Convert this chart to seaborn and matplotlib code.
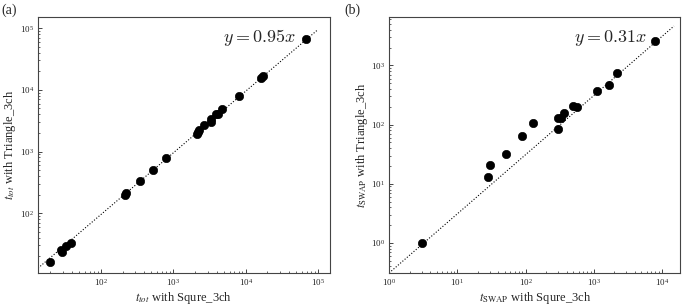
import numpy as np
import pandas as pd
import matplotlib
matplotlib.use('Agg')
import matplotlib.pyplot as plt
import seaborn as sns

# (a) t_tot
tot_square = [20, 28, 29, 33, 38, 215, 225, 346, 521, 795, 2100, 2200, 2300,
              2630, 3300, 3350, 3850, 4200, 4780, 8100, 16300, 17500, 68000]
tot_triangle = [16.4, 25.4, 23.3, 28.8, 33, 200, 210, 334, 505, 780, 1950, 2050, 2200,
                2690, 3000, 3400, 4000, 4100, 4900, 8000, 15500, 16800, 68000]
# (b) t_SWAP
swap_square = [3, 28, 30, 52, 90, 130, 300, 300, 330, 370, 500, 560,
               1100, 1650, 2200, 8000]
swap_triangle = [1.0, 13, 21, 32, 65, 105, 85, 128, 130, 155, 205, 198,
                 370, 465, 740, 2550]

slope_a = 0.95
slope_b = 0.31

sns.set_style('ticks')
plt.rcParams['font.family'] = ['Liberation Serif', 'DejaVu Serif']
plt.rcParams['mathtext.fontset'] = 'stix'

df_a = pd.DataFrame({'x': tot_square, 'y': tot_triangle})
df_b = pd.DataFrame({'x': swap_square, 'y': swap_triangle})

fig = plt.figure(figsize=(6.85, 3.04), dpi=100)
ax1 = fig.add_axes([0.0555, 0.102, 0.426, 0.842])
ax2 = fig.add_axes([0.568, 0.102, 0.425, 0.842])

# 斜率线
line_a = np.logspace(np.log10(13.5), 5, 50)
ax1.plot(line_a, slope_a * line_a, ls=':', color='k', lw=0.8)
sns.scatterplot(data=df_a, x='x', y='y', ax=ax1, color='k', s=36, edgecolor='k', zorder=3)
ax1.set_xscale('log')
ax1.set_yscale('log')
ax1.set_xlim(13.5, 1.46e5)
ax1.set_ylim(10.7, 1.52e5)
ax1.set_xlabel(r'$t_{tot}$ with Squre_3ch', fontsize=9, labelpad=1)
ax1.set_ylabel(r'$t_{tot}$ with Triangle_3ch', fontsize=9, labelpad=1)
ax1.text(0.635, 0.92, r'$y=0.95x$', transform=ax1.transAxes, fontsize=13,
         va='center', math_fontfamily='cm')

line_b = np.logspace(0, np.log10(1.5e4), 50)
ax2.plot(line_b, slope_b * line_b, ls=':', color='k', lw=0.8)
sns.scatterplot(data=df_b, x='x', y='y', ax=ax2, color='k', s=36, edgecolor='k', zorder=3)
ax2.set_xscale('log')
ax2.set_yscale('log')
ax2.set_xlim(1, 1.85e4)
ax2.set_ylim(0.31, 6600)
ax2.set_xlabel(r'$t_{\rm SWAP}$ with Squre_3ch', fontsize=9, labelpad=1)
ax2.set_ylabel(r'$t_{\rm SWAP}$ with Triangle_3ch', fontsize=9, labelpad=1)
ax2.text(0.635, 0.92, r'$y=0.31x$', transform=ax2.transAxes, fontsize=13,
         va='center', math_fontfamily='cm')

for ax in (ax1, ax2):
    ax.tick_params(which='both', direction='in', labelsize=6.5, pad=3)
    ax.tick_params(which='major', length=3, width=0.6)
    ax.tick_params(which='minor', length=1.5, width=0.5)
    for sp in ax.spines.values():
        sp.set_linewidth(0.8)
        sp.set_color('#444444')

fig.text(0.002, 0.988, '(a)', fontsize=10, va='top')
fig.text(0.503, 0.988, '(b)', fontsize=10, va='top')

plt.savefig('out.png', dpi=100)
